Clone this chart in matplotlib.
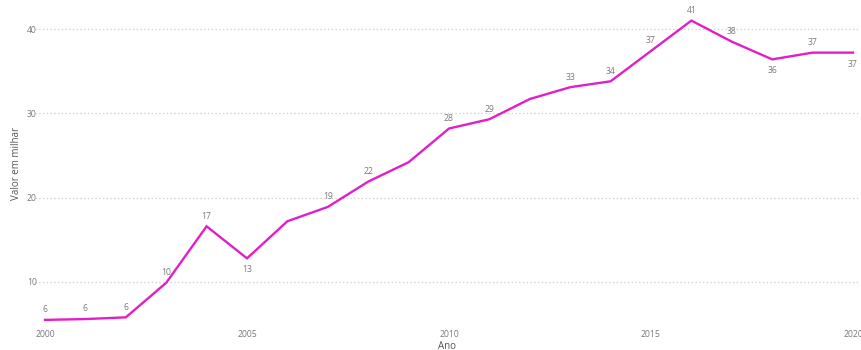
import matplotlib
matplotlib.use("Agg")
import matplotlib.pyplot as plt

plt.rcParams["font.family"] = ["Open Sans", "DejaVu Sans"]

# values (thousands)
YEARS: list[int] = list(range(2000, 2021))
VALUES: list[float] = [5.5, 5.6, 5.8, 9.9, 16.6, 12.8, 17.2, 18.9, 21.9, 24.2,
                       28.2, 29.3, 31.7, 33.1, 33.8, 37.4, 41.0, 38.5, 36.4,
                       37.2, 37.2]
# which points carry a data label, and where ("a" above, "b" below)
LABEL_POS: list[str] = ["a", "a", "a", "a", "a", "b", "", "a", "a", "",
                        "a", "a", "", "a", "a", "a", "a", "a", "b", "a", "b"]
YTICKS: list[int] = [10, 20, 30, 40]
XTICKS: list[int] = [2000, 2005, 2010, 2015, 2020]

LINE = "#E11FC9"
TXT = "#7a7a7a"

fig = plt.figure(figsize=(8.61, 3.5), dpi=100)
ax = fig.add_axes([35 / 861, 1 - 322 / 350, (860 - 35) / 861, (322 - 5) / 350])

ax.plot(YEARS, VALUES, color=LINE, linewidth=1.7, solid_joinstyle="miter")

for x, v, pos in zip(YEARS, VALUES, LABEL_POS):
    if not pos:
        continue
    dy = 4 if pos == "a" else -5
    ax.annotate(f"{v:.0f}", (x, v), xytext=(0, dy), textcoords="offset points",
                ha="center", va="bottom" if pos == "a" else "top",
                fontsize=6.2, color=TXT)

ax.set_xlim(2000 - 10 / 40.4, 2020 + 7 / 40.4)
ax.set_ylim(5.25, 42.85)
ax.set_yticks(YTICKS)
ax.set_xticks(XTICKS)
ax.tick_params(length=0, labelsize=6.2, colors=TXT)
ax.tick_params(axis="y", pad=-2)
ax.tick_params(axis="x", pad=6)
for lbl in ax.get_yticklabels():
    lbl.set_horizontalalignment("left")
    lbl.set_x(-0.013)

ax.grid(axis="y", color="#cccccc", linestyle=(0, (1, 2)), linewidth=0.9)
ax.set_axisbelow(True)
for s in ax.spines.values():
    s.set_visible(False)

ax.set_ylabel("Valor em milhar", fontsize=7, color="#555555")
ax.yaxis.set_label_coords(-0.016, 0.5)
ax.set_xlabel("Ano", fontsize=7, color="#555555", labelpad=1)

fig.savefig("out.png", dpi=100)
